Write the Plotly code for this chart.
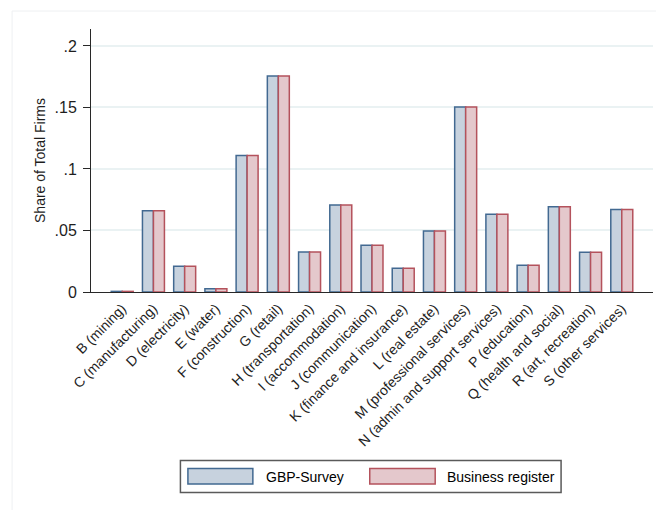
import plotly.graph_objects as go

categories = ["B (mining)", "C (manufacturing)", "D (electricity)", "E (water)",
              "F (construction)", "G (retail)", "H (transportation)", "I (accommodation)",
              "J (communication)", "K (finance and insurance)", "L (real estate)",
              "M (professional services)", "N (admin and support services)",
              "P (education)", "Q (health and social)", "R (art, recreation)",
              "S (other services)"]
gbp_survey = [0.0005, 0.066, 0.021, 0.0027, 0.111, 0.1755, 0.0325, 0.0707, 0.038,
              0.0194, 0.0496, 0.1504, 0.0633, 0.0218, 0.0693, 0.0324, 0.0671]
business_register = [0.0005, 0.066, 0.021, 0.0027, 0.111, 0.1755, 0.0325, 0.0707, 0.038,
                     0.0194, 0.0496, 0.1504, 0.0633, 0.0218, 0.0693, 0.0324, 0.0671]
series_names = ["GBP-Survey", "Business register"]
y_ticks = [0, 0.05, 0.1, 0.15, 0.2]
y_ticklabels = ["0", ".05", ".1", ".15", ".2"]

blue_fill = "rgb(199,210,222)"
blue_line = "rgb(66,105,145)"
red_fill = "rgb(228,200,204)"
red_line = "rgb(180,82,92)"
FONT = "Arial, Liberation Sans, sans-serif"

fig = go.Figure()
fig.add_trace(go.Bar(x=categories, y=gbp_survey, name=series_names[0],
                     marker=dict(color=blue_fill, line=dict(color=blue_line, width=1.5))))
fig.add_trace(go.Bar(x=categories, y=business_register, name=series_names[1],
                     marker=dict(color=red_fill, line=dict(color=red_line, width=1.5))))

W, H = 656, 510
L, R, T, B = 91, 2.5, 29, 218
pw = W - L - R
ph = H - T - B

def px(x):
    return (x - L) / pw

def py(y):
    return (H - B - y) / ph

shapes = []
# faint outer graph-region frame
shapes.append(dict(type="rect", xref="paper", yref="paper",
                   x0=px(12), x1=px(700), y0=py(600), y1=py(11),
                   line=dict(color="rgb(238,240,242)", width=1), layer="below"))
# legend box
shapes.append(dict(type="rect", xref="paper", yref="paper",
                   x0=px(180.5), x1=px(561.5), y0=py(492.5), y1=py(460.5),
                   line=dict(color="rgb(90,90,90)", width=1.5), fillcolor="white"))
shapes.append(dict(type="rect", xref="paper", yref="paper",
                   x0=px(188), x1=px(253), y0=py(484), y1=py(468.5),
                   line=dict(color=blue_line, width=1.5), fillcolor=blue_fill))
shapes.append(dict(type="rect", xref="paper", yref="paper",
                   x0=px(370), x1=px(435.5), y0=py(484), y1=py(468.5),
                   line=dict(color=red_line, width=1.5), fillcolor=red_fill))

annotations = [
    dict(text=series_names[0], xref="paper", yref="paper", x=px(264), y=py(476.5),
         xanchor="left", yanchor="middle", showarrow=False,
         font=dict(family=FONT, size=14, color="black")),
    dict(text=series_names[1], xref="paper", yref="paper", x=px(445), y=py(476.5),
         xanchor="left", yanchor="middle", showarrow=False,
         font=dict(family=FONT, size=14, color="black")),
]

fig.update_layout(
    width=W, height=H,
    margin=dict(l=L, r=R, t=T, b=B),
    paper_bgcolor="white", plot_bgcolor="white",
    barmode="group", bargap=0.296, bargroupgap=0,
    showlegend=False,
    shapes=shapes, annotations=annotations,
    font=dict(family=FONT, color="rgb(30,30,30)"),
    xaxis=dict(range=[-1, 17], tickangle=-45, showgrid=False,
               showline=True, linecolor="rgb(40,40,40)", linewidth=1,
               ticks="", ticklabelstandoff=2,
               tickfont=dict(size=14, family=FONT, color="rgb(30,30,30)")),
    yaxis=dict(range=[0, 0.2138], tickvals=y_ticks, ticktext=y_ticklabels,
               showgrid=True, gridcolor="rgb(234,242,243)", gridwidth=1.5,
               showline=True, linecolor="rgb(40,40,40)", linewidth=1,
               ticks="outside", ticklen=7, tickcolor="rgb(40,40,40)",
               ticklabelstandoff=3,
               tickfont=dict(size=16, family=FONT, color="rgb(30,30,30)"),
               zeroline=False,
               title=dict(text="Share of Total Firms", standoff=5,
                          font=dict(size=14, family=FONT, color="rgb(30,30,30)"))),
)

fig.write_html("out.html")
